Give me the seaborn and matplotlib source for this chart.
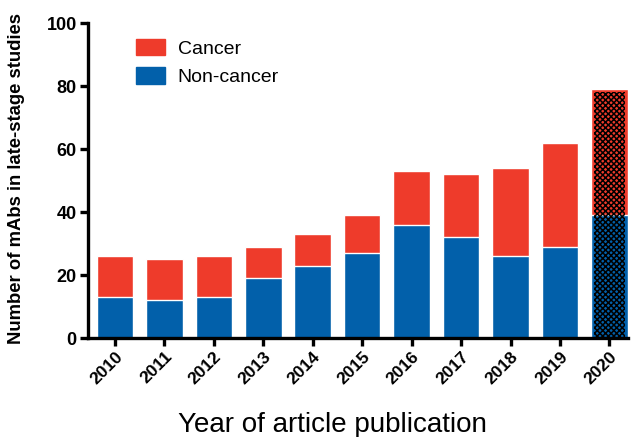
import matplotlib
matplotlib.use("Agg")
import matplotlib.pyplot as plt
import seaborn as sns
import pandas as pd
from matplotlib.patches import Patch

years = ["2010", "2011", "2012", "2013", "2014", "2015", "2016", "2017", "2018", "2019", "2020"]
non_cancer = [13, 12, 13, 19, 23, 27, 36, 32, 26, 29, 39]
cancer = [13, 13, 13, 10, 10, 12, 17, 20, 28, 33, 40]
total = [a + b for a, b in zip(non_cancer, cancer)]

RED = "#EE3B2B"
BLUE = "#0260AA"

sns.set_theme(style="ticks")
plt.rcParams["font.family"] = ["Liberation Sans", "DejaVu Sans"]
plt.rcParams["hatch.linewidth"] = 1.1
plt.rcParams["text.color"] = "black"
plt.rcParams["axes.labelcolor"] = "black"
plt.rcParams["xtick.color"] = "black"
plt.rcParams["ytick.color"] = "black"

df = pd.DataFrame({"year": years, "total": total, "non_cancer": non_cancer})

fig = plt.figure(figsize=(6.36, 4.37), dpi=100)
ax = fig.add_axes([0.138, 0.2265, 0.849, 0.7205])

sns.barplot(data=df, x="year", y="total", color=RED, saturation=1, width=0.74, ax=ax)
sns.barplot(data=df, x="year", y="non_cancer", color=BLUE, saturation=1, width=0.74, ax=ax)

# hatched overlay on the last (projected) year
last = len(years) - 1
ax.bar(last, total[last] - 1.0, bottom=0, width=0.74 - 0.12, facecolor="none",
       edgecolor="black", linewidth=0, hatch="xxxxxx", zorder=3)

ax.set_ylim(0, 100)
ax.set_xlim(-0.55, 10.37)
ax.set_yticks([0, 20, 40, 60, 80, 100])
ax.set_xlabel("Year of article publication", fontsize=20)
ax.xaxis.set_label_coords(0.454, -0.235)
ax.set_ylabel("Number of mAbs in late-stage studies", fontsize=13.3, fontweight="bold")
ax.yaxis.set_label_coords(-0.117, 0.506)

for s in ["top", "right"]:
    ax.spines[s].set_visible(False)
for s in ["left", "bottom"]:
    ax.spines[s].set_linewidth(2.4)
    ax.spines[s].set_color("black")

ax.tick_params(axis="both", width=2.4, length=6, color="black", labelcolor="black",
               labelsize=13, pad=2)
for lab in ax.get_yticklabels():
    lab.set_fontweight("bold")
for lab in ax.get_xticklabels():
    lab.set_fontweight("bold")
    lab.set_rotation(45)
    lab.set_ha("right")
    lab.set_rotation_mode("anchor")
    lab.set_fontsize(12.5)

handles = [Patch(facecolor=RED, edgecolor=RED, label="Cancer"),
           Patch(facecolor=BLUE, edgecolor=BLUE, label="Non-cancer")]
ax.legend(handles=handles, loc="upper left", bbox_to_anchor=(0.089, 0.95), frameon=False,
          borderpad=0, borderaxespad=0, labelcolor="black",
          fontsize=14, handlelength=1.5, handleheight=0.93, handletextpad=0.65, labelspacing=0.47)

fig.savefig("out.png", dpi=100)
